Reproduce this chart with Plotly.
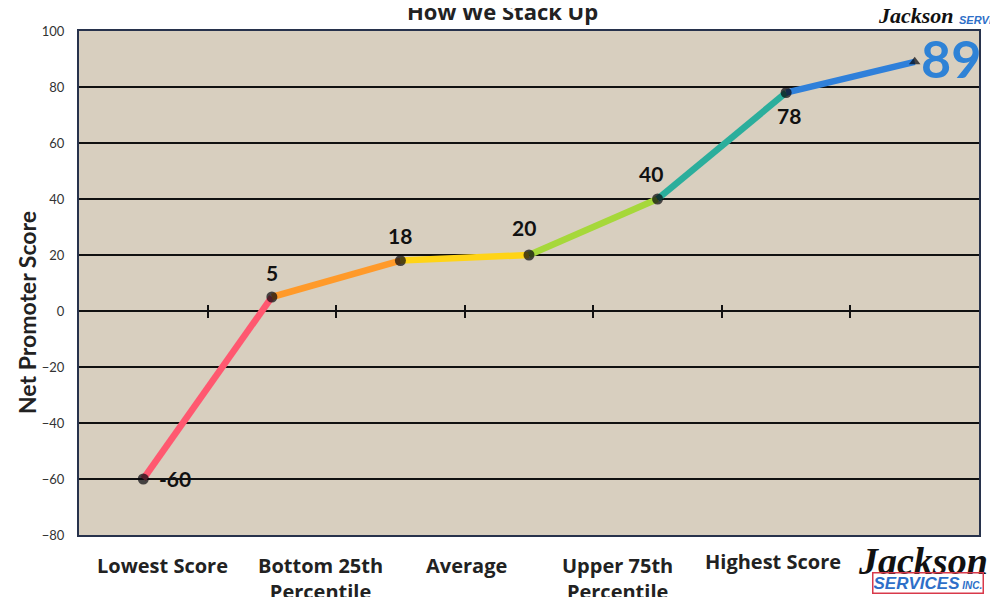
import plotly.graph_objects as go

# ---- data ----
point_names = ["Lowest Score", "Bottom 25th Percentile", "Average",
               "Upper 75th Percentile", "Highest Score", "Jackson Services"]
x_pos = [0, 1, 2, 3, 4, 5, 6]
scores = [-60, 5, 18, 20, 40, 78, 89]
score_labels = ["-60", "5", "18", "20", "40", "78", "89"]
category_labels = ["Lowest Score", "Bottom 25th<br>Percentile", "Average",
                   "Upper 75th<br>Percentile", "Highest Score"]
category_label_x = [0.15, 1.38, 2.51, 3.69, 4.9]
category_label_y = [-0.029, -0.029, -0.029, -0.029, -0.022]
y_ticks = [-80, -60, -40, -20, 0, 20, 40, 60, 80, 100]
segment_colors = ["#FF5870", "#FF9A2A", "#FFD416", "#A6D83A", "#2BAE9C", "#2F80DA"]

FONT = "Lato"
fig = go.Figure()

# coloured line segments
for i in range(len(x_pos) - 1):
    fig.add_trace(go.Scatter(
        x=x_pos[i:i + 2], y=scores[i:i + 2], mode="lines",
        line=dict(color=segment_colors[i], width=6.5), hoverinfo="skip",
        showlegend=False))

symbols = ["circle"] * 6 + ["triangle-up"]
fig.add_trace(go.Scatter(
    x=x_pos, y=scores, mode="markers",
    marker=dict(color="#05050C", size=[11] * 6 + [10], symbol=symbols,
                line=dict(width=0)),
    showlegend=False))

fig.update_layout(
    xaxis=dict(range=[-0.5, 6.5], showgrid=False, zeroline=False,
               showticklabels=False, ticks="", showline=True, mirror=True,
               linecolor="#27324C", linewidth=2),
    xaxis2=dict(range=[-0.5, 6.5], overlaying="x", anchor="free",
                position=80 / 180, tickvals=[0.5, 1.5, 2.5, 3.5, 4.5, 5.5],
                ticks="outside", ticklen=6, tickwidth=1.5, tickcolor="#111",
                showticklabels=False, showgrid=False, zeroline=False, showline=False),
    xaxis3=dict(range=[-0.5, 6.5], overlaying="x", anchor="free",
                position=80 / 180, tickvals=[0.5, 1.5, 2.5, 3.5, 4.5, 5.5],
                ticks="inside", ticklen=6, tickwidth=1.5, tickcolor="#111",
                showticklabels=False, showgrid=False, zeroline=False, showline=False),
    yaxis=dict(range=[-80, 100], tickvals=y_ticks, showgrid=True,
               gridcolor="#111111", gridwidth=1.5, zeroline=False,
               showline=True, mirror=True, linecolor="#27324C", linewidth=2,
               ticks="", ticklabelstandoff=10,
               tickfont=dict(family=FONT, size=13, color="#333333")),
)
fig.add_trace(go.Scatter(x=[None], y=[None], xaxis="x2", showlegend=False, hoverinfo="skip"))
fig.add_trace(go.Scatter(x=[None], y=[None], xaxis="x3", showlegend=False, hoverinfo="skip"))

annotations = []
# value labels
label_style = [  # xanchor, yanchor, xshift, yshift
    ("left", "middle", 14, 1),
    ("center", "bottom", 0, 10),
    ("center", "bottom", 0, 11),
    ("center", "bottom", -5, 13),
    ("center", "bottom", -7, 11),
    ("center", "top", 3, -8),
    ("left", "middle", 4, 4),
]
for xv, yv, lab, (xa, ya, xs, ys) in zip(x_pos, scores, score_labels, label_style):
    big = lab == score_labels[-1]
    annotations.append(dict(
        text=lab, x=xv, y=yv, xref="x", yref="y", xanchor=xa, yanchor=ya,
        xshift=xs, yshift=ys, showarrow=False,
        font=dict(family=FONT, size=52 if big else 21,
                  color="#2E82D6" if big else "#111111", weight="bold")))

for lab, lx, ly in zip(category_labels, category_label_x, category_label_y):
    annotations.append(dict(text=lab, x=lx, y=ly, xref="x", yref="paper",
                            xanchor="center", yanchor="top", showarrow=False,
                            font=dict(family="Open Sans", size=20, color="#222222",
                                      weight="bold")))
# y-axis title
annotations.append(dict(text="Net Promoter Score", x=-0.058, y=0.442, xref="paper",
                        yref="paper", xanchor="center", yanchor="middle",
                        textangle=-90, showarrow=False,
                        font=dict(family=FONT, size=23, color="#222222", weight="bold")))
# title (cut at top)
annotations.append(dict(text="<b>How We Stack Up</b>", x=0.47, y=1.04, xref="paper",
                        yref="paper", xanchor="center", yanchor="middle", showarrow=False,
                        font=dict(family="Open Sans", size=22, color="#222222")))
# top-right logo
annotations.append(dict(text="<b><i>Jackson</i></b>", x=0.886, y=1.03, xref="paper",
                        yref="paper", xanchor="left", yanchor="middle", showarrow=False,
                        font=dict(family="Liberation Serif", size=22, color="#111111")))
annotations.append(dict(text="<b><i>SERVICES</i></b>", x=0.976, y=1.022, xref="paper",
                        yref="paper", xanchor="left", yanchor="middle", showarrow=False,
                        font=dict(family="Liberation Sans", size=11, color="#2E6FC8")))
# bottom-right logo
annotations.append(dict(text="<b><i>Jackson</i></b>", x=1.012, y=-0.052, xref="paper",
                        yref="paper", xanchor="right", yanchor="middle", showarrow=False,
                        font=dict(family="Liberation Serif", size=38, color="#111111")))
annotations.append(dict(text="<b><i>SERVICES</i></b><i><b><span style='font-size:10px'> INC.</span></b></i>",
                        x=1.006, y=-0.096, xref="paper",
                        yref="paper", xanchor="right", yanchor="middle", showarrow=False,
                        bordercolor="#D8394A", borderwidth=1.5, borderpad=0,
                        font=dict(family="Liberation Sans", size=17, color="#2E6FC8")))

# page body adds an 8px offset; margins compensate so the plot area matches
fig.update_layout(
    width=998, height=597,
    margin=dict(l=71, r=27, t=23, b=70),
    paper_bgcolor="white", plot_bgcolor="#D8CFBF",
    annotations=annotations, showlegend=False,
)

fig.write_html("out.html")
